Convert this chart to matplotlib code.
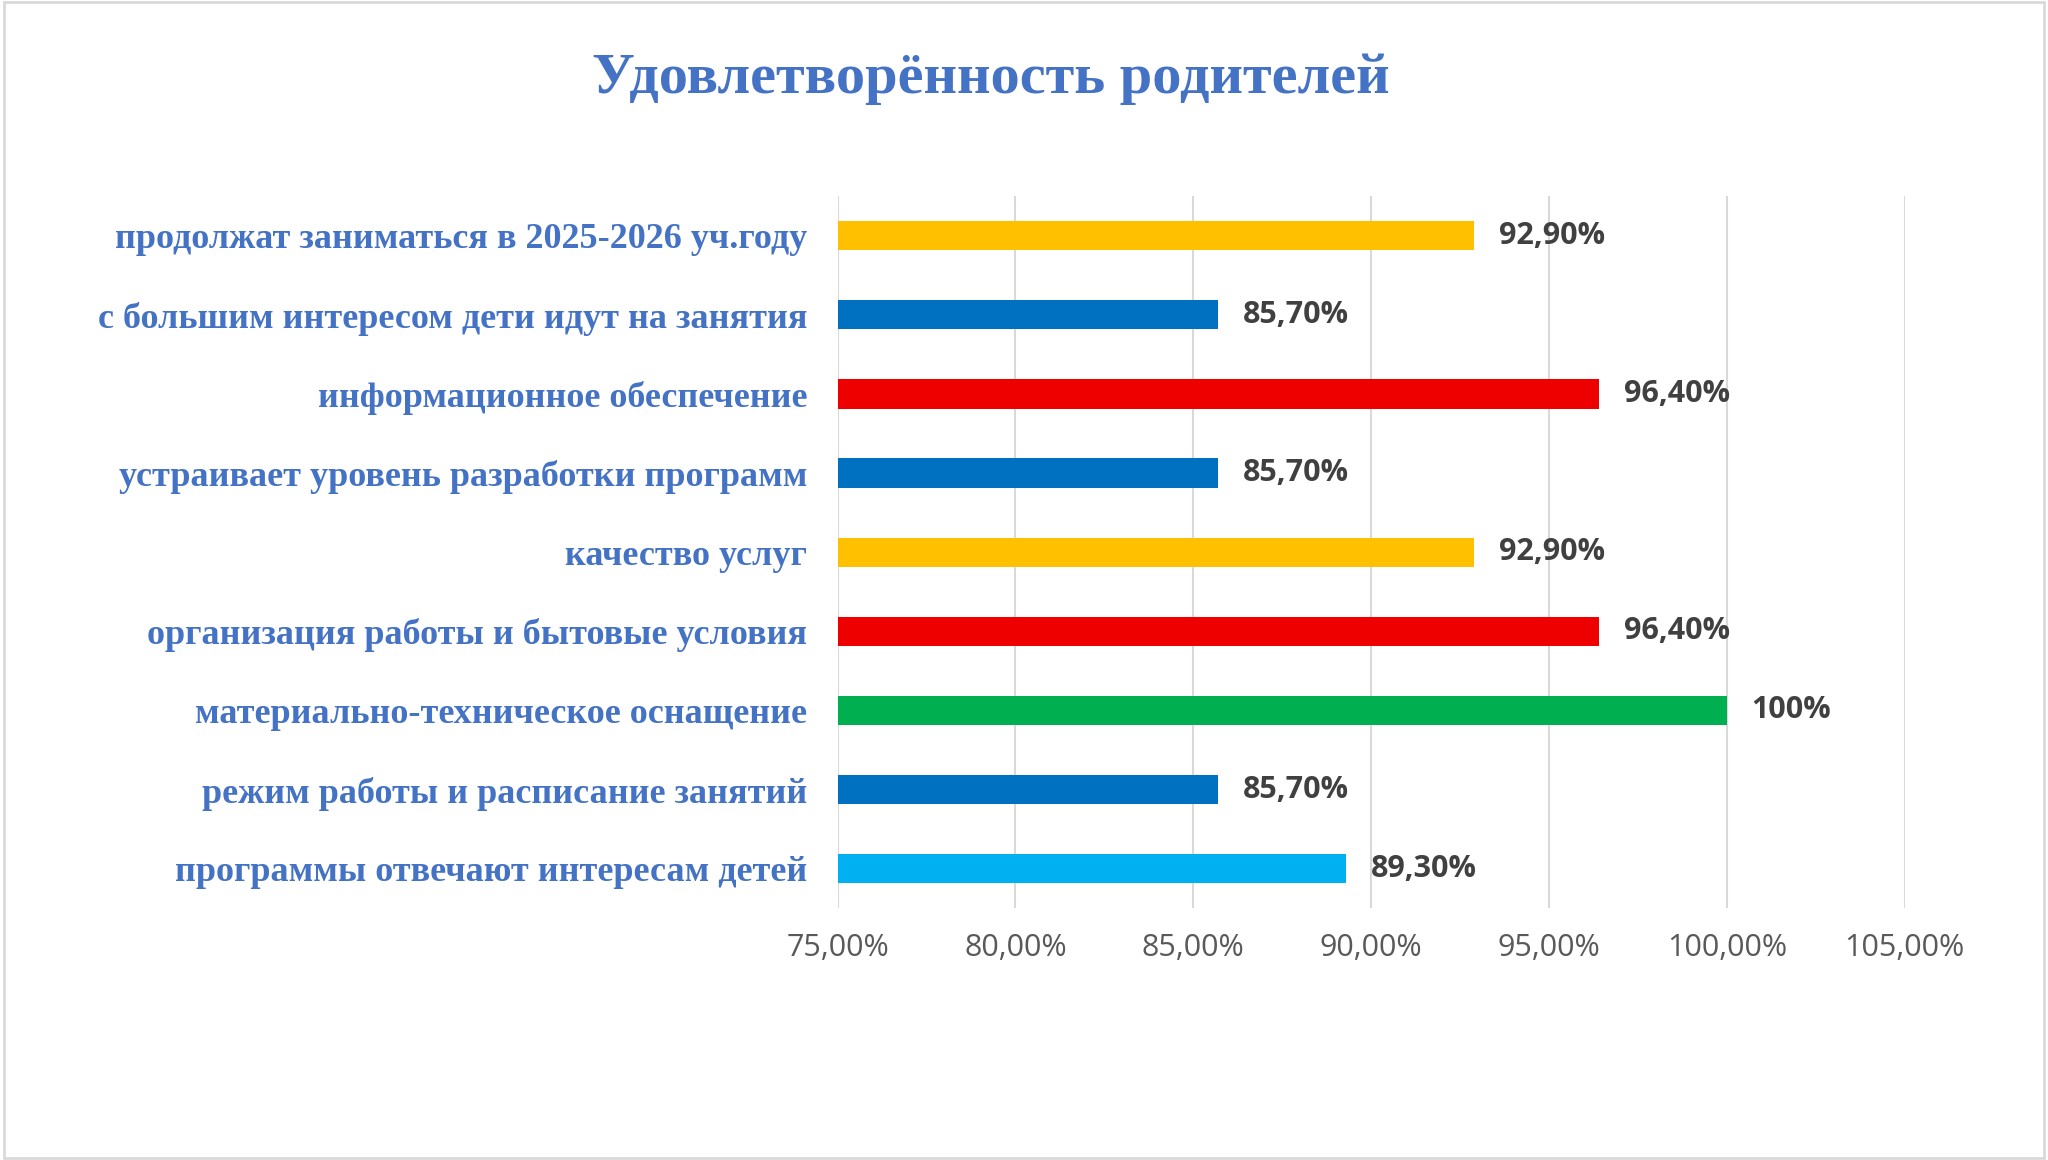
import matplotlib.pyplot as plt
from matplotlib.patches import Rectangle

categories = [
    "продолжат заниматься в 2025-2026 уч.году",
    "с большим интересом дети идут на занятия",
    "информационное обеспечение",
    "устраивает уровень разработки программ",
    "качество услуг",
    "организация работы и бытовые условия",
    "материально-техническое оснащение",
    "режим работы и расписание занятий",
    "программы отвечают интересам детей",
]
values = [92.9, 85.7, 96.4, 85.7, 92.9, 96.4, 100.0, 85.7, 89.3]
value_labels = ["92,90%", "85,70%", "96,40%", "85,70%", "92,90%", "96,40%", "100%", "85,70%", "89,30%"]
colors = ["#FFC000", "#0070C0", "#EE0000", "#0070C0", "#FFC000", "#EE0000", "#00B050", "#0070C0", "#00B0F0"]
ticks = [75, 80, 85, 90, 95, 100, 105]
tick_labels = ["75,00%", "80,00%", "85,00%", "90,00%", "95,00%", "100,00%", "105,00%"]

fig = plt.figure(figsize=(20.48, 11.6), dpi=100)
fig.patches.append(Rectangle((0.002, 0.002), 0.996, 0.996, transform=fig.transFigure,
                             fill=False, edgecolor="#D9D9D9", linewidth=2))
ax = fig.add_axes([0.409, 0.217, 0.521, 0.614])

y = list(range(len(categories)))
ax.barh(y, [v - 75 for v in values], left=75, height=0.37, color=colors, zorder=3)
for yi, v, lab in zip(y, values, value_labels):
    ax.text(v + 0.7, yi, lab, va="center", ha="left", fontsize=22, fontweight="bold",
            color="#404040", family="Open Sans")

ax.set_xlim(75, 105)
ax.set_ylim(len(categories) - 0.5, -0.5)
ax.set_xticks(ticks)
ax.set_xticklabels(tick_labels, fontsize=22, color="#595959", family="Open Sans")
ax.set_yticks(y)
ax.set_yticklabels(categories, fontsize=26, fontweight="bold", color="#4472C4",
                   family="Liberation Serif")
ax.tick_params(length=0, pad=18)
ax.tick_params(axis="y", pad=22)
ax.grid(axis="x", color="#D9D9D9", linewidth=1.5, zorder=0)
for s in ax.spines.values():
    s.set_visible(False)

fig.text(0.484, 0.932, "Удовлетворённость родителей", ha="center", va="center",
         fontsize=42, fontweight="bold", color="#4472C4", family="Liberation Serif")

fig.savefig("out.png", dpi=100)
